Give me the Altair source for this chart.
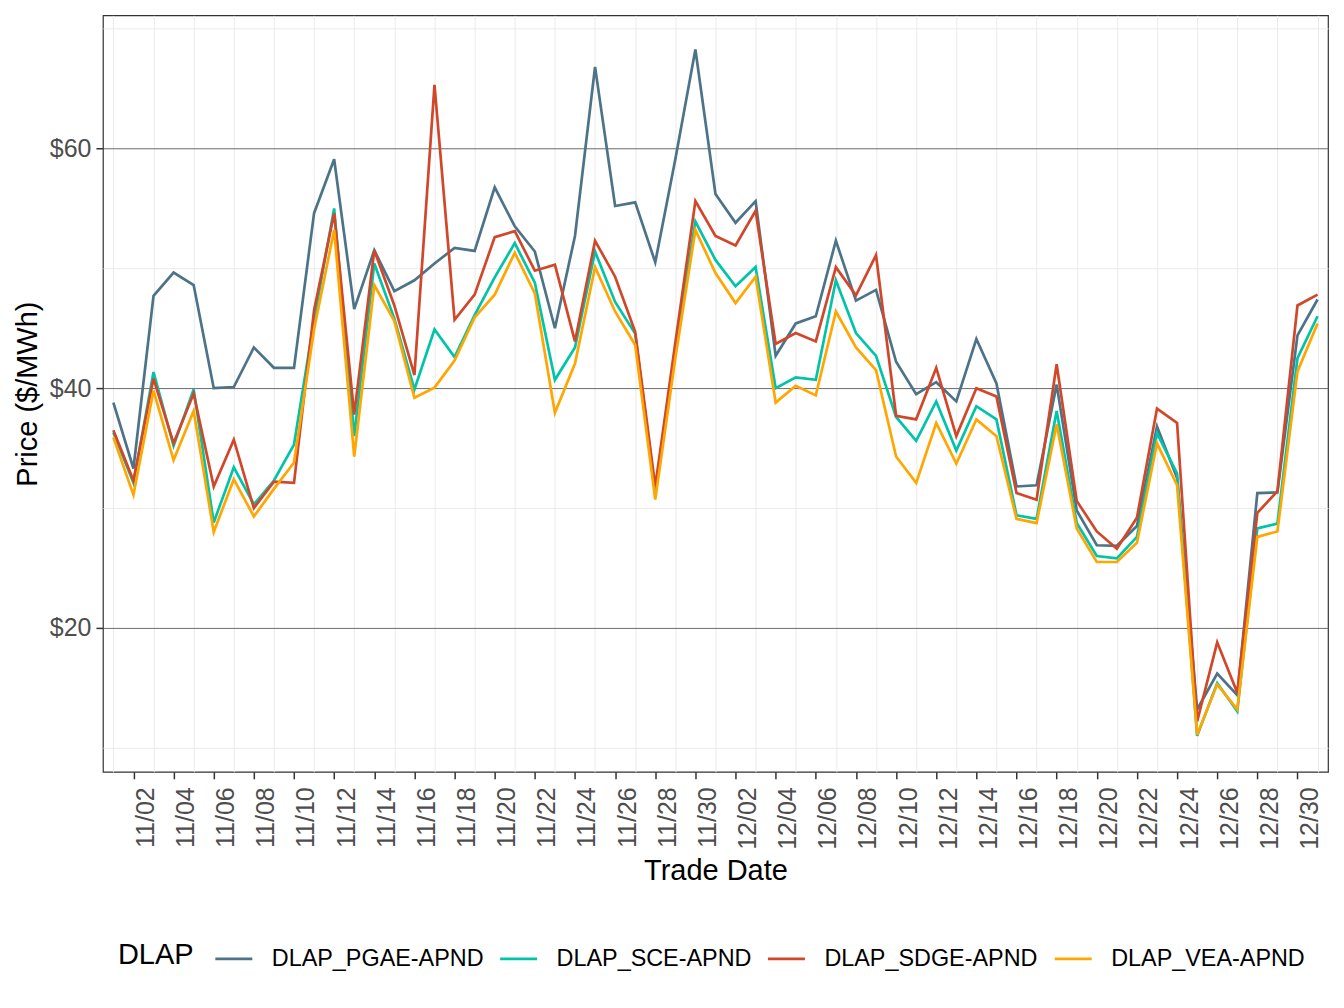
import pandas as pd
import altair as alt

dates = pd.date_range("2023-11-01", "2023-12-31", freq="D").strftime("%Y-%m-%d").tolist()

pgae = [38.8, 33.3, 47.7, 49.65, 48.6, 40.0, 40.1, 43.4, 41.7, 41.7,
        54.6, 59.1, 46.6, 51.5, 48.1, 49.0, 50.4, 51.7, 51.45, 56.75,
        53.5, 51.4, 45.0, 52.7, 66.8, 55.2, 55.5, 50.5, 59.1, 68.25,
        56.2, 53.8, 55.6, 42.7, 45.4, 46.0, 52.3, 47.3, 48.2, 42.2,
        39.5, 40.5, 38.9, 44.1, 40.4, 31.8, 31.9, 40.3, 29.8, 26.9,
        26.85, 28.5, 36.8, 32.5, 13.2, 16.2, 14.4, 31.25, 31.3, 44.4, 47.4]
sce = [36.3, 32.1, 41.35, 35.2, 39.9, 28.8, 33.4, 30.3, 32.3, 35.3,
       45.7, 55.0, 36.0, 50.4, 45.8, 39.9, 44.9, 42.6, 46.1, 49.25,
       52.1, 48.8, 40.7, 43.4, 51.4, 47.2, 44.55, 31.3, 43.2, 53.9,
       50.7, 48.5, 50.1, 40.0, 40.9, 40.7, 49.0, 44.6, 42.7, 37.6,
       35.6, 38.9, 34.8, 38.5, 37.4, 29.4, 29.1, 38.1, 28.75, 26.0,
       25.8, 27.6, 36.25, 32.9, 11.0, 15.4, 13.05, 28.3, 28.7, 42.5, 46.0]
sdge = [36.5, 32.3, 40.8, 35.4, 39.55, 31.8, 35.7, 30.0, 32.2, 32.1,
        46.5, 54.6, 37.8, 51.5, 46.9, 41.1, 65.3, 45.7, 47.8, 52.6,
        53.1, 49.8, 50.3, 43.9, 52.3, 49.3, 44.7, 31.8, 43.8, 55.6,
        52.7, 51.9, 54.8, 43.7, 44.6, 43.9, 50.1, 47.75, 51.1, 37.7,
        37.4, 41.7, 36.0, 40.0, 39.3, 31.25, 30.7, 42.0, 30.6, 28.05,
        26.6, 29.2, 38.3, 37.1, 12.2, 18.8, 14.6, 29.6, 31.4, 46.9, 47.8]
vea = [35.9, 31.1, 39.8, 34.0, 38.1, 28.0, 32.4, 29.3, 31.6, 33.8,
       44.9, 53.2, 34.3, 48.6, 45.6, 39.2, 40.05, 42.3, 45.9, 47.8,
       51.3, 47.9, 37.95, 42.05, 50.1, 46.4, 43.6, 30.7, 42.5, 53.2,
       49.6, 47.1, 49.3, 38.8, 40.2, 39.4, 46.4, 43.4, 41.5, 34.3,
       32.1, 37.1, 33.7, 37.4, 36.0, 29.1, 28.75, 37.0, 28.3, 25.5,
       25.5, 27.1, 35.4, 31.9, 11.1, 15.3, 13.2, 27.6, 28.05, 41.4, 45.4]

names = ["DLAP_PGAE-APND", "DLAP_SCE-APND", "DLAP_SDGE-APND", "DLAP_VEA-APND"]
colors = ["#4d7388", "#00c4aa", "#d0472a", "#ffa600"]
y_ticks = [10, 20, 30, 40, 50, 60, 70]

rows = []
for name, vals in zip(names, [pgae, sce, sdge, vea]):
    for d, v in zip(dates, vals):
        rows.append({"date": d, "price": v, "DLAP": name})
df = pd.DataFrame(rows)

even_day = "utcdate(datum.value) % 2 === 0"
major = "datum.value % 20 === 0"

x_axis = alt.Axis(
    title="Trade Date",
    tickCount={"interval": "day", "step": 1},
    labelExpr=f"{even_day} ? utcFormat(datum.value, '%m/%d') : ''",
    labelAngle=270, labelAlign="right", labelBaseline="top",
    labelOverlap=False, labelFlush=False, labelPadding=8,
    tickOpacity=alt.condition(even_day, alt.value(1), alt.value(0)),
    gridOpacity=alt.condition(even_day, alt.value(0), alt.value(1)),
    gridColor="#ebebeb", gridWidth=1,
    domain=False, tickSize=7, tickColor="#333333", tickWidth=1.5,
    labelFontSize=25, labelColor="#4d4d4d",
    titleFontSize=29, titleFontWeight="normal", titleColor="black", titlePadding=7,
)

y_axis = alt.Axis(
    title="Price ($/MWh)",
    values=y_ticks,
    labelExpr=f"{major} ? '$' + datum.value : ''",
    gridColor=alt.condition(major, alt.value("#6b6b6b"), alt.value("#ebebeb")),
    gridWidth=1,
    tickOpacity=alt.condition(major, alt.value(1), alt.value(0)),
    domain=False, tickSize=7, tickColor="#333333", tickWidth=1.5,
    labelFontSize=25, labelColor="#4d4d4d", labelPadding=5,
    titleFontSize=29, titleFontWeight="normal", titleColor="black", titlePadding=7,
)

chart = (
    alt.Chart(df)
    .mark_line(strokeWidth=2.7)
    .encode(
        x=alt.X(
            "date:T",
            axis=x_axis,
            scale=alt.Scale(
                type="utc",
                domain=[
                    alt.DateTime(year=2023, month=10, date=31, hours=11, minutes=30, utc=True),
                    alt.DateTime(year=2023, month=12, date=31, hours=12, minutes=30, utc=True),
                ],
            ),
        ),
        y=alt.Y("price:Q", axis=y_axis, scale=alt.Scale(domain=[8.0, 71.1], nice=False, zero=False)),
        color=alt.Color(
            "DLAP:N",
            scale=alt.Scale(domain=names, range=colors),
            legend=alt.Legend(
                title="DLAP", orient="none", legendX=15, legendY=924,
                direction="horizontal", columns=4, titleOrient="left",
                titleFontSize=29, titleFontWeight="normal", titleColor="black",
                titlePadding=20, titleBaseline="middle",
                labelFontSize=23.4, labelColor="black", labelOffset=18, labelLimit=0,
                columnPadding=10, symbolType="stroke", symbolSize=1369,
                symbolStrokeWidth=2.8, padding=0,
            ),
        ),
        order=alt.Order("date:T"),
    )
    .properties(
        width=1226, height=757, autosize="none",
        padding={"left": 95, "top": 7, "right": 8, "bottom": 230},
    )
    .configure(font="Liberation Sans")
    .configure_view(stroke="#333333", strokeWidth=1.2)
)

chart.save("out.html", embed_options={"renderer": "svg", "actions": False})
